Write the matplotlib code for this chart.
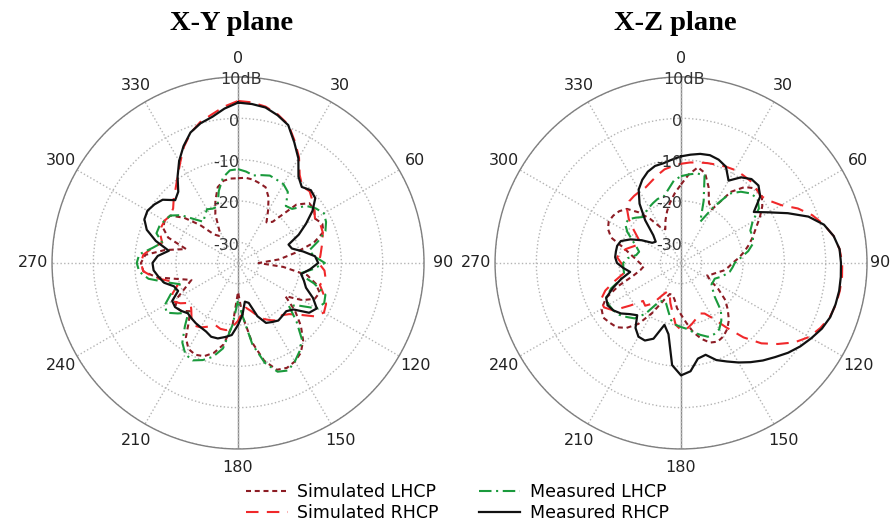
import numpy as np
import matplotlib
matplotlib.use('Agg')
from matplotlib import pyplot as plt
from matplotlib import transforms


# angle grid of the read-off points (degrees, clockwise from top)
angles_deg = np.arange(0, 360, 5)
theta_labels = [0, 30, 60, 90, 120, 150, 180, 210, 240, 270, 300, 330]
ring_ticks = [-30, -20, -10, 0, 10]
ring_labels = ['-30', '-20', '-10', '0', '10dB']

# X-Y plane (dB)
xy_sim_lhcp = [-14.5, -14.3, -14.5, -15.0, -15.5, -17.5, -20.5, -23.0, -22.0, -15.0, -12.5, -12.5,
               -13.5, -12.5, -13.0, -16.0, -21.0, -25.0, -30.0, -24.0, -18.0, -15.5, -14.0, -14.5,
               -17.0, -21.0, -17.0, -13.5, -10.5, -8.5, -7.5, -7.0, -7.5, -10.5, -15.5, -22.0,
               -28.0, -20.0, -15.0, -12.5, -11.0, -10.5, -11.0, -13.0, -16.5, -18.5, -17.0, -16.5,
               -18.0, -21.0, -23.0, -20.0, -15.0, -12.0, -11.5, -12.5, -17.0, -22.0, -17.0, -15.0,
               -14.5, -15.0, -18.0, -22.0, -26.0, -27.0, -26.0, -22.0, -19.0, -16.0, -14.8, -14.5]
xy_sim_rhcp = [4.2, 4.0, 3.4, 2.2, 0.6, -2.5, -5.5, -9.0, -10.8, -10.5, -11.5, -12.5,
               -13.5, -13.0, -13.2, -13.8, -14.5, -15.0, -15.5, -14.0, -13.5, -14.5, -13.0, -11.5,
               -11.0, -12.5, -15.5, -17.5, -18.5, -18.0, -19.0, -20.0, -21.5, -23.0, -24.0, -23.0,
               -21.0, -19.5, -18.5, -18.5, -19.0, -18.0, -17.0, -16.5, -17.5, -19.0, -20.0, -18.0,
               -16.5, -17.5, -19.5, -18.0, -14.5, -12.0, -11.5, -12.0, -14.0, -16.0, -15.0, -14.5,
               -14.5, -15.0, -14.5, -13.0, -11.5, -9.5, -7.0, -4.0, -1.5, 0.3, 1.5, 3.0]
xy_meas_lhcp = [-12.3, -12.8, -13.5, -13.0, -12.5, -12.8, -13.0, -14.0, -17.0, -16.5, -13.5, -12.0,
                -11.0, -11.5, -12.5, -15.0, -17.5, -16.5, -14.0, -17.0, -20.0, -16.0, -12.5, -12.0,
                -13.0, -17.0, -19.0, -15.0, -11.0, -9.0, -7.5, -6.3, -7.0, -10.0, -15.0, -22.0,
                -26.0, -20.0, -14.0, -11.5, -10.0, -9.0, -9.5, -11.5, -15.0, -18.0, -16.0, -14.0,
                -14.5, -17.0, -20.0, -17.0, -13.0, -11.0, -10.5, -11.0, -14.0, -16.0, -14.0, -14.0,
                -14.5, -15.0, -17.0, -20.0, -22.0, -21.0, -20.0, -20.5, -20.5, -17.0, -14.0, -12.5]
xy_meas_rhcp = [3.8, 3.6, 3.2, 2.0, 0.5, -2.8, -5.8, -9.5, -11.0, -10.1, -10.6, -13.0,
                -16.0, -18.8, -22.0, -21.5, -19.0, -16.3, -15.6, -17.5, -19.5, -18.5, -17.5, -15.0,
                -13.0, -14.0, -17.5, -18.5, -18.3, -18.0, -18.5, -19.0, -21.3, -25.0, -25.5, -22.5,
                -20.0, -17.5, -16.8, -16.1, -16.0, -16.7, -17.0, -17.2, -17.5, -17.8, -17.0, -16.4,
                -16.6, -19.0, -18.5, -16.5, -15.5, -14.5, -14.3, -15.5, -18.0, -14.4, -11.5, -10.0,
                -9.7, -10.3, -11.2, -13.5, -12.5, -9.5, -6.5, -3.8, -1.4, 0.0, 0.9, 2.5]

# X-Z plane (dB)
xz_sim_lhcp = [-16.0, -13.5, -11.5, -12.5, -15.5, -19.0, -20.0, -14.0, -11.0, -9.5, -9.5, -11.0,
               -13.0, -15.0, -16.5, -18.0, -19.5, -21.0, -22.5, -23.5, -24.5, -26.0, -27.0, -28.0,
               -27.0, -24.0, -21.0, -19.0, -17.0, -15.5, -14.5, -14.0, -14.5, -16.0, -18.0, -20.5,
               -22.5, -24.0, -26.0, -27.0, -27.0, -25.0, -21.0, -17.0, -14.5, -13.0, -12.5, -12.0,
               -12.8, -15.0, -19.0, -23.0, -25.0, -26.0, -25.0, -24.0, -22.5, -20.5, -17.0, -15.5,
               -14.8, -15.0, -15.5, -16.5, -19.0, -22.0, -25.0, -26.0, -24.0, -22.0, -20.0, -18.0]
xz_sim_rhcp = [-11.0, -10.6, -10.3, -10.0, -9.7, -9.3, -9.0, -9.0, -9.0, -9.4, -9.8, -8.8,
               -7.0, -3.8, -1.2, 0.8, 2.5, 3.5, 4.0, 4.1, 4.0, 3.8, 3.3, 2.2,
               0.8, -1.5, -4.5, -7.5, -11.5, -16.0, -19.5, -21.5, -22.0, -21.0, -20.0, -19.0,
               -18.8, -20.0, -23.0, -25.0, -27.0, -27.5, -26.0, -23.0, -21.5, -22.0, -19.0, -15.0,
               -13.5, -13.5, -15.5, -18.5, -21.0, -21.5, -20.5, -19.5, -20.0, -21.5, -23.0, -24.0,
               -23.0, -21.0, -18.5, -16.5, -15.5, -15.2, -15.0, -14.8, -14.0, -13.0, -12.0, -11.5]
xz_meas_lhcp = [-14.0, -13.5, -13.0, -13.0, -19.0, -24.0, -19.5, -14.5, -12.5, -11.2, -10.8, -12.0,
                -15.0, -16.5, -16.5, -17.0, -18.5, -20.5, -22.0, -22.5, -23.0, -24.0, -25.0, -26.0,
                -26.0, -26.0, -25.0, -23.5, -20.0, -18.0, -16.5, -16.0, -16.0, -17.0, -18.0, -19.0,
                -19.5, -20.0, -21.0, -23.0, -24.5, -25.0, -24.0, -20.0, -17.5, -16.5, -15.5, -15.0,
                -14.8, -15.0, -17.0, -20.0, -21.0, -21.0, -21.0, -22.0, -24.0, -24.5, -23.5, -22.0,
                -20.0, -18.5, -18.5, -19.5, -20.5, -20.0, -19.5, -19.0, -18.5, -18.5, -17.0, -15.0]
xz_meas_rhcp = [-9.2, -8.7, -8.2, -8.0, -8.4, -9.3, -12.0, -9.7, -8.5, -8.5, -10.0, -13.5,
                -10.5, -6.5, -2.2, 0.8, 2.5, 3.5, 3.7, 3.8, 3.85, 3.7, 3.4, 2.6,
                1.4, 0.2, -1.2, -2.8, -4.2, -5.7, -7.2, -8.7, -10.0, -12.0, -11.5, -8.7,
                -7.8, -10.2, -17.5, -19.5, -15.5, -14.3, -14.4, -15.8, -18.5, -17.5, -16.0, -15.0,
                -14.5, -15.0, -17.5, -20.0, -22.5, -21.0, -19.5, -19.0, -19.0, -19.0, -19.5, -21.5,
                -24.0, -26.5, -27.0, -25.5, -21.5, -17.5, -14.5, -12.8, -11.5, -10.7, -10.5, -9.9]

series_names = ['Simulated LHCP', 'Simulated RHCP', 'Measured LHCP', 'Measured RHCP']
styles = [
    dict(color='#8c1c24', linestyle=(0, (2.4, 1.8)), linewidth=1.5),
    dict(color='#f0282a', linestyle=(0, (6.0, 4.0)), linewidth=1.5),
    dict(color='#1a9a3c', linestyle=(0, (6.0, 2.2, 1.0, 2.2)), linewidth=1.5),
    dict(color='#111111', linestyle='-', linewidth=1.6),
]

plt.rcParams['font.family'] = 'DejaVu Sans'


def closed(values):
    return np.append(values, values[0])


def setup_polar(fig, ax, title, title_x, right_edge=False):
    ax.set_theta_zero_location('N')
    ax.set_theta_direction(-1)
    ax.set_ylim(-35, 10)
    ax.set_yticks(ring_ticks)
    ax.set_yticklabels([])
    ax.set_xticks(np.deg2rad(theta_labels))
    ax.set_xticklabels([])
    ax.grid(True, color='#b4b4b4', linestyle=':', linewidth=1.0)
    ax.spines['polar'].set_color('#7f7f7f')
    ax.spines['polar'].set_linewidth(1.0)
    ax.tick_params(axis='x', direction='in', length=5, color='#7f7f7f')
    ax.axvline(0, color='#8a8a8a', linewidth=1.0, zorder=1)
    ax.axvline(np.pi, color='#8a8a8a', linewidth=1.0, zorder=1)

    for a in theta_labels:
        r = 14.5
        if right_edge and a == 90:
            # keep the label inside the figure
            r = 13.2
        ax.text(np.deg2rad(a), r, str(a), ha='center', va='center',
                fontsize=11.5, color='#222222', clip_on=False)

    for r, s in zip(ring_ticks, ring_labels):
        if s.endswith('dB'):
            tr = transforms.offset_copy(ax.transData, fig=fig, x=2, y=-2, units='points')
            ax.text(0, r, s, ha='center', va='center', fontsize=11.5,
                    color='#333333', transform=tr, zorder=5)
        else:
            tr = transforms.offset_copy(ax.transData, fig=fig, x=1, y=-2, units='points')
            ax.text(0, r, s, ha='right', va='center', fontsize=11.5,
                    color='#333333', transform=tr, zorder=5)

    fig.text(title_x, 1 - 23 / 525, title, ha='center', va='center',
             family='Liberation Serif', weight='bold', fontsize=20.5)


fig = plt.figure(figsize=(8.91, 5.25), dpi=100)
ax1 = fig.add_axes([0.0584, 0.1448, 0.4175, 0.7086], projection='polar')
ax2 = fig.add_axes([0.5556, 0.1448, 0.4175, 0.7086], projection='polar')

setup_polar(fig, ax1, 'X-Y plane', 232 / 891)
setup_polar(fig, ax2, 'X-Z plane', 675 / 891, right_edge=True)

theta = np.deg2rad(closed(angles_deg))
handles = []
for name, style, vals in zip(series_names, styles,
                             [xy_sim_lhcp, xy_sim_rhcp, xy_meas_lhcp, xy_meas_rhcp]):
    line, = ax1.plot(theta, closed(vals), label=name, **style)
    handles.append(line)
for style, vals in zip(styles, [xz_sim_lhcp, xz_sim_rhcp, xz_meas_lhcp, xz_meas_rhcp]):
    ax2.plot(theta, closed(vals), **style)

fig.legend(handles=handles, loc='upper left', bbox_to_anchor=(246 / 891, 1 - 483 / 525),
           ncol=2, frameon=False, fontsize=12.5, handlelength=2.4, handletextpad=0.55,
           columnspacing=2.3, labelspacing=0.2, borderpad=0, borderaxespad=0)

plt.savefig('out.png', dpi=100)
